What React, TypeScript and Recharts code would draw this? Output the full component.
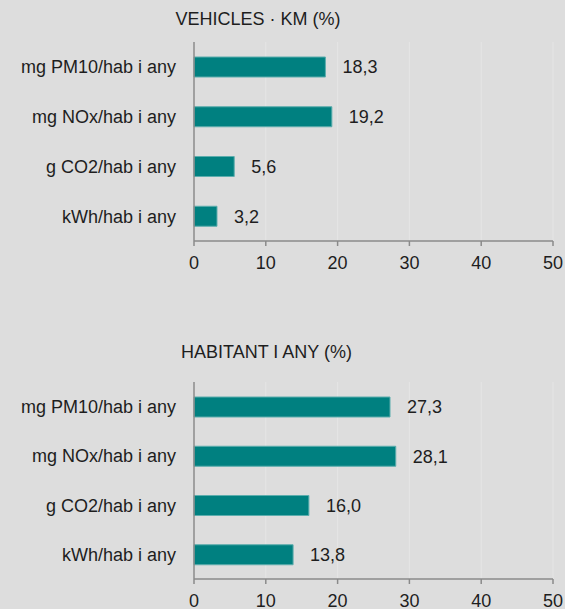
import React from 'react';
import { BarChart, Bar, XAxis, YAxis, CartesianGrid, LabelList } from 'recharts';

const categories = ['mg PM10/hab i any', 'mg NOx/hab i any', 'g CO2/hab i any', 'kWh/hab i any'];
const vehiclesKm = [18.3, 19.2, 5.6, 3.2];
const habitantAny = [27.3, 28.1, 16.0, 13.8];
const xTicks = [0, 10, 20, 30, 40, 50];
const boundaryTicks = [0, 1, 2, 3, 4];
const titles = ['VEHICLES · KM (%)', 'HABITANT I ANY (%)'];

const FONT = '"Liberation Sans", Arial, sans-serif';
const TEXT = '#1e1e1e';
const AXIS = '#8a8a8a';
const BAR = '#008080';
const BAR_EDGE = '#5cadad';
const BG = '#dddddd';
const GRID = '#e5e5e5';

const fmt = (v: any) => Number(v).toFixed(1).replace('.', ',');

function Panel({ values, height, marginTop, marginBottom }: { values: number[]; height: number; marginTop: number; marginBottom: number }) {
  const data = categories.map((name, i) => ({ name, v: values[i] }));
  return (
    <BarChart
      width={565}
      height={height}
      data={data}
      layout="vertical"
      margin={{ top: marginTop, right: 12, left: 0, bottom: marginBottom }}
      barSize={20}
    >
      <CartesianGrid horizontal={false} vertical stroke={GRID} strokeWidth={1} xAxisId="x" yAxisId="a" />
      <XAxis
        xAxisId="x"
        type="number"
        domain={[0, 50]}
        ticks={xTicks}
        interval={0}
        height={30}
        tickSize={5}
        tickMargin={10}
        axisLine={{ stroke: AXIS, strokeWidth: 1.5 }}
        tickLine={{ stroke: AXIS, strokeWidth: 1.5 }}
        tick={{ fill: TEXT, fontSize: 18, fontFamily: FONT }}
      />
      <YAxis
        yAxisId="a"
        type="number"
        domain={[0, 4]}
        ticks={boundaryTicks}
        interval={0}
        width={1}
        tickSize={5}
        tick={false}
        axisLine={{ stroke: AXIS, strokeWidth: 1.5 }}
        tickLine={{ stroke: AXIS, strokeWidth: 1.5 }}
      />
      <YAxis
        yAxisId="b"
        type="category"
        dataKey="name"
        width={193}
        axisLine={false}
        tickLine={false}
        tickSize={0}
        tickMargin={17}
        interval={0}
        tick={{ fill: TEXT, fontSize: 18, fontFamily: FONT }}
      />
      <Bar dataKey="v" xAxisId="x" yAxisId="b" fill={BAR} stroke={BAR_EDGE} strokeWidth={1} isAnimationActive={false}>
        <LabelList dataKey="v" position="right" offset={17} formatter={fmt} fill={TEXT} fontSize={18} fontFamily={FONT} />
      </Bar>
    </BarChart>
  );
}

export default function App() {
  return (
    <div style={{ position: 'absolute', left: 0, top: 0, width: 565, height: 609, background: BG, overflow: 'hidden', fontFamily: FONT }}>
      <div style={{ position: 'absolute', left: 0, top: 0 }}>
        <Panel values={vehiclesKm} height={290} marginTop={42} marginBottom={19} />
      </div>
      <div style={{ position: 'absolute', left: 0, top: 340 }}>
        <Panel values={habitantAny} height={269} marginTop={42} marginBottom={0} />
      </div>
      <svg width={565} height={609} style={{ position: 'absolute', left: 0, top: 0, pointerEvents: 'none' }}>
        <text x={258} y={24.5} textAnchor="middle" fontSize={18} fontFamily={FONT} fill={TEXT}>{titles[0]}</text>
        <text x={266.5} y={358} textAnchor="middle" fontSize={18} fontFamily={FONT} fill={TEXT}>{titles[1]}</text>
      </svg>
    </div>
  );
}
